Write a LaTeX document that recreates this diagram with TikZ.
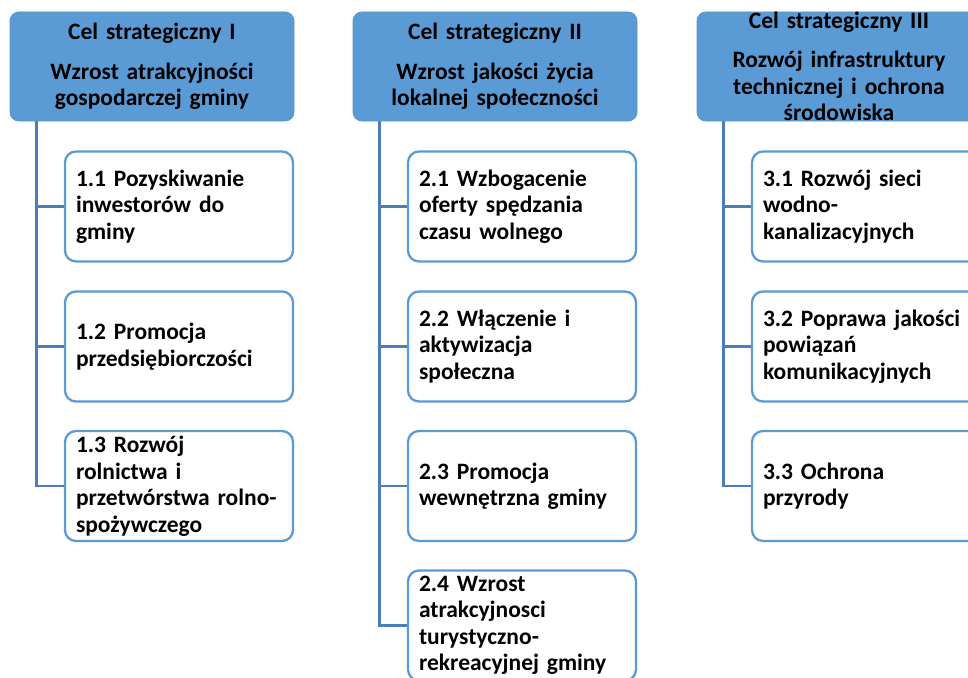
\documentclass[tikz,border=0pt]{standalone}
\usepackage{fontspec}
\setmainfont{Carlito}
\definecolor{celblue}{HTML}{5B9BD5}
\definecolor{celedge}{HTML}{5A95CC}
\definecolor{linkblue}{HTML}{4A7EBB}
\begin{document}
\begin{tikzpicture}[x=1pt, y=-1pt,
  cel/.style={rectangle, rounded corners=9pt, fill=celblue, draw=celedge, line width=0.8pt,
    minimum width=284pt, minimum height=109pt, text width=270pt, align=center,
    inner sep=0pt, font=\fontsize{23.5}{26.5}\selectfont\bfseries},
  zad/.style={rectangle, rounded corners=11pt, fill=white, draw=celblue, line width=2.3pt,
    minimum width=228pt, minimum height=110pt, text width=206pt, align=left,
    inner sep=0pt, font=\fontsize{23.5}{26.5}\selectfont\bfseries},
  link/.style={draw=linkblue, line width=2.6pt}]
\useasboundingbox (0,0) rectangle (968,677);
\clip (0,0) rectangle (968,677);
% cele strategiczne
\node[cel] (cel1) at (152,66.5) {Cel strategiczny I\\[13pt]Wzrost atrakcyjności\\gospodarczej gminy};
\node[cel] (cel2) at (495,66.5) {Cel strategiczny II\\[13pt]Wzrost jakości życia\\lokalnej społeczności};
\node[cel] (cel3) at (839,66.5) {Cel strategiczny III\\[13pt]Rozwój infrastruktury\\technicznej i ochrona\\środowiska};
% zadania
\node[zad] (z11) at (179,206.5) {1.1 Pozyskiwanie\\inwestorów do\\gminy};
\node[zad] (z12) at (179,346.5) {1.2 Promocja\\przedsiębiorczości};
\node[zad] (z13) at (179,486) {1.3 Rozwój\\rolnictwa i\\przetwórstwa rolno-\\spożywczego};
\node[zad] (z21) at (522,206.5) {2.1 Wzbogacenie\\oferty spędzania\\czasu wolnego};
\node[zad] (z22) at (522,346.5) {2.2 Włączenie i\\aktywizacja\\społeczna};
\node[zad] (z23) at (522,486) {2.3 Promocja\\wewnętrzna gminy};
\node[zad] (z24) at (522,625.5) {2.4 Wzrost\\atrakcyjnosci\\turystyczno-\\rekreacyjnej gminy};
\node[zad] (z31) at (866,206.5) {3.1 Rozwój sieci\\wodno-\\kanalizacyjnych};
\node[zad] (z32) at (866,346.5) {3.2 Poprawa jakości\\powiązań\\komunikacyjnych};
\node[zad] (z33) at (866,486) {3.3 Ochrona\\przyrody};
% linie
\draw[link] ([xshift=27pt]cel1.south west) |- (z11.west);
\draw[link] ([xshift=27pt]cel1.south west) |- (z12.west);
\draw[link] ([xshift=27pt]cel1.south west) |- (z13.west);
\draw[link] ([xshift=27pt]cel2.south west) |- (z21.west);
\draw[link] ([xshift=27pt]cel2.south west) |- (z22.west);
\draw[link] ([xshift=27pt]cel2.south west) |- (z23.west);
\draw[link] ([xshift=27pt]cel2.south west) |- (z24.west);
\draw[link] ([xshift=27pt]cel3.south west) |- (z31.west);
\draw[link] ([xshift=27pt]cel3.south west) |- (z32.west);
\draw[link] ([xshift=27pt]cel3.south west) |- (z33.west);
\end{tikzpicture}
\end{document}
